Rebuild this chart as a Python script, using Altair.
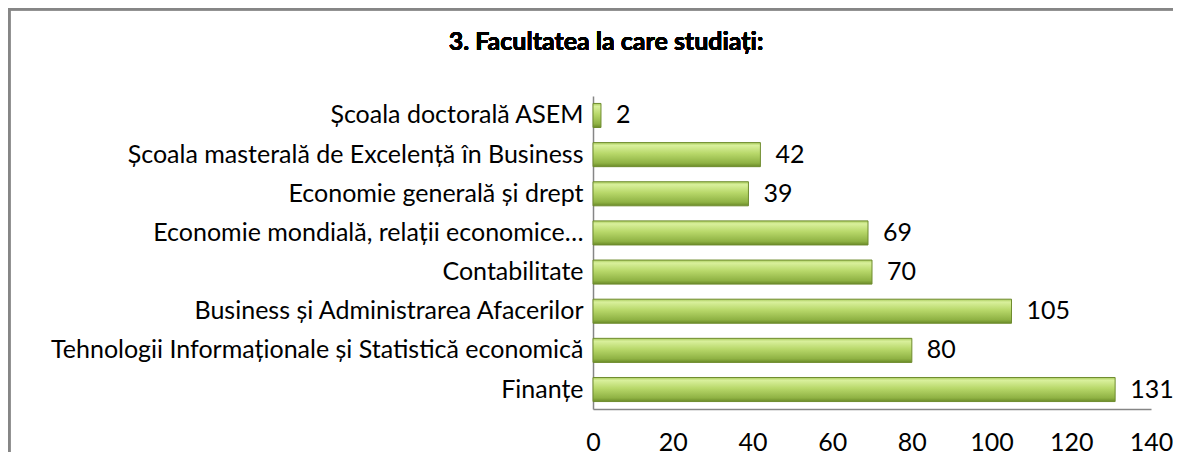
import altair as alt
import pandas as pd

categories = [
    "Școala doctorală ASEM",
    "Școala masterală de Excelență în Business",
    "Economie generală și drept",
    "Economie mondială, relații economice…",
    "Contabilitate",
    "Business și Administrarea Afacerilor",
    "Tehnologii Informaționale și Statistică economică",
    "Finanțe",
]
values = [2, 42, 39, 69, 70, 105, 80, 131]
x_ticks = [0, 20, 40, 60, 80, 100, 120, 140]
title_text = "3. Facultatea la care studiați:"

df = pd.DataFrame({"cat": categories, "val": values})

FONT = "Lato"
FS = 25
W, H = 558, 313
PL, PT, PR, PB = 585, 88, 22, 43

grad = alt.Gradient(
    gradient="linear",
    x1=0, x2=0, y1=0, y2=1,
    stops=[
        alt.GradientStop(offset=0, color="#a9cb5c"),
        alt.GradientStop(offset=0.12, color="#d9f09c"),
        alt.GradientStop(offset=0.45, color="#b8d86a"),
        alt.GradientStop(offset=0.85, color="#8fb244"),
        alt.GradientStop(offset=1, color="#6a8a28"),
    ],
)

y_enc = alt.Y(
    "cat:N", sort=categories, title=None,
    scale=alt.Scale(paddingInner=0.385, paddingOuter=0.19),
    axis=alt.Axis(labelFont=FONT, labelFontSize=FS, labelColor="#000000",
                  labelLimit=800, labelPadding=10, ticks=False,
                  domainColor="#868686", domainWidth=1.5),
)
x_enc = alt.X(
    "val:Q", title=None,
    scale=alt.Scale(domain=[0, 140], nice=False),
    axis=alt.Axis(values=x_ticks, grid=False, ticks=False, labelFont=FONT,
                  labelFontSize=FS, labelColor="#000000", labelPadding=21,
                  domainColor="#868686", domainWidth=1.5, labelFlush=False),
)

bars = alt.Chart(df).mark_bar(fill=grad, stroke="#6f8c2f", strokeWidth=1).encode(
    x=x_enc, y=y_enc
)
labels = alt.Chart(df).mark_text(
    align="left", baseline="middle", dx=15, font=FONT, fontSize=FS, color="#000000"
).encode(x="val:Q", y=alt.Y("cat:N", sort=categories), text="val:Q")

title = alt.Chart(df).mark_text(
    font=FONT, fontSize=FS, fontWeight="bold", color="#000000",
    align="center", baseline="alphabetic"
).encode(x=alt.value(606 - (PL + 8)), y=alt.value(50 - (PT + 8)), text=alt.value(title_text))

border_top = alt.Chart(df).mark_rule(stroke="#868686", strokeWidth=2.5).encode(
    x=alt.value(-PL), x2=alt.value(W + PR),
    y=alt.value(-PT + 1), y2=alt.value(-PT + 1),
)
border_left = alt.Chart(df).mark_rule(stroke="#868686", strokeWidth=2.5).encode(
    x=alt.value(-PL + 1), x2=alt.value(-PL + 1),
    y=alt.value(-PT), y2=alt.value(H + PB),
)

chart = alt.layer(border_top, border_left, bars, labels, title).properties(
    width=W, height=H,
    background="#ffffff",
    autosize=alt.AutoSizeParams(type="none"),
    padding={"left": PL, "top": PT, "right": PR, "bottom": PB},
).configure_view(stroke=None)

chart.save("out.html", embed_options={"renderer": "svg", "actions": False})
